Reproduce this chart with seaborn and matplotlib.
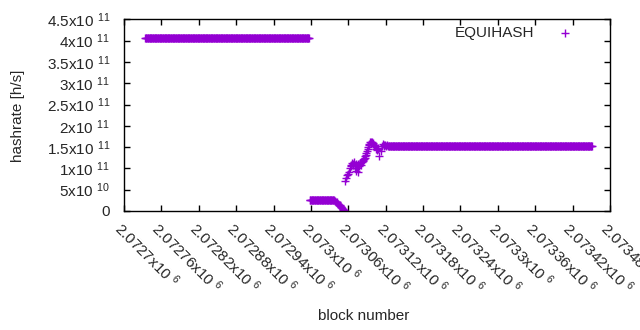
import numpy as np
import pandas as pd
import matplotlib
matplotlib.use("Agg")
import matplotlib.pyplot as plt
import seaborn as sns

# ---- data ----
# flat runs: (first block, last block, hashrate)
run_first = [2072734, 2072998, 2073016, 2073125]
run_last = [2072997, 2073015, 2073037, 2073451]
run_value = [4.055e11, 2.65e10, 2.55e10, 1.526e11]

# individual blocks in the transitions
pt_blocks = [2073038, 2073040, 2073042, 2073044, 2073045, 2073046, 2073047,
             2073048, 2073049, 2073050, 2073051, 2073052, 2073053,
             2073054, 2073056, 2073058, 2073060, 2073061, 2073063, 2073064,
             2073065, 2073066, 2073067, 2073068, 2073069, 2073070, 2073071,
             2073072, 2073073, 2073074, 2073075, 2073076, 2073077, 2073078,
             2073079, 2073080, 2073081, 2073082, 2073083, 2073084, 2073085,
             2073086, 2073087, 2073088, 2073089, 2073090, 2073091, 2073092,
             2073093, 2073094, 2073095, 2073096, 2073097, 2073098, 2073099,
             2073100, 2073101, 2073103, 2073105, 2073106, 2073107, 2073108,
             2073110, 2073112, 2073114, 2073116, 2073117, 2073118, 2073119,
             2073120, 2073122, 2073124]
pt_values_e10 = [2.45, 2.2, 2.0, 1.7, 1.5, 1.35, 1.2,
                 1.05, 0.9, 0.7, 0.5, 0.3, 0.15,
                 7.0, 7.8, 8.5, 8.8, 9.2, 10.2, 10.8,
                 10.5, 11.2, 11.0, 10.8, 11.5, 10.2, 10.8,
                 11.0, 9.5, 10.0, 9.2, 11.0, 10.5, 11.3,
                 11.2, 10.8, 11.6, 11.4, 11.8, 12.0, 12.2,
                 12.5, 12.8, 13.2, 13.6, 14.0, 14.5, 15.0,
                 15.5, 15.8, 16.2, 16.3, 16.0, 16.2, 15.8,
                 15.9, 15.6, 15.2, 14.6, 14.4, 14.5, 14.8,
                 12.9, 14.2, 15.2, 15.8, 15.6, 15.3, 15.5,
                 15.3, 15.4, 15.3]

x_ticks = [2072700 + 60 * k for k in range(14)]
x_tick_labels = ["2.0727", "2.07276", "2.07282", "2.07288", "2.07294", "2.073",
                 "2.07306", "2.07312", "2.07318", "2.07324", "2.0733",
                 "2.07336", "2.07342", "2.07348"]
y_ticks = [0, 5e10, 1e11, 1.5e11, 2e11, 2.5e11, 3e11, 3.5e11, 4e11, 4.5e11]
y_tick_labels = ["0", "5x10 $^{10}$", "1x10 $^{11}$", "1.5x10 $^{11}$", "2x10 $^{11}$",
                 "2.5x10 $^{11}$", "3x10 $^{11}$", "3.5x10 $^{11}$", "4x10 $^{11}$",
                 "4.5x10 $^{11}$"]

blocks = []
vals = []
for a, b, v in zip(run_first, run_last, run_value):
    rng = list(range(a, b + 1))
    blocks += rng
    vals += [v] * len(rng)
blocks += pt_blocks
vals += [v * 1e10 for v in pt_values_e10]
df = pd.DataFrame({"block": blocks, "hashrate": vals}).sort_values("block")

# ---- style ----
sns.set_style("white")
plt.rcParams["font.family"] = ["Liberation Sans", "DejaVu Sans"]
plt.rcParams["mathtext.fontset"] = "custom"
plt.rcParams["mathtext.rm"] = "Liberation Sans"
plt.rcParams["mathtext.it"] = "Liberation Sans"
plt.rcParams["mathtext.default"] = "regular"

FS = 11
fig = plt.figure(figsize=(6.4, 3.3), dpi=100)
ax = fig.add_axes([124 / 640, 1 - 211 / 330, 486 / 640, 191.7 / 330])

sns.scatterplot(data=df, x="block", y="hashrate", marker="+", s=30,
                color="#9400d3", linewidth=1, label="EQUIHASH", ax=ax)

ax.set_xlim(2072700, 2073480)
ax.set_ylim(0, 4.5e11)
ax.set_xticks(x_ticks)
ax.set_xticklabels([l + "x10 $^{6}$" for l in x_tick_labels], rotation=-45,
                   ha="left", va="top", rotation_mode="anchor", fontsize=FS)
ax.set_yticks(y_ticks)
ax.set_yticklabels(y_tick_labels, fontsize=FS)
ax.tick_params(direction="in", length=4, width=1, color="black",
               top=True, right=True, bottom=True, left=True, pad=6)
ax.tick_params(axis="y", pad=10)
for sp in ax.spines.values():
    sp.set_color("black")
    sp.set_linewidth(1)

ax.set_xlabel("block number", fontsize=FS)
ax.set_ylabel("hashrate [h/s]", fontsize=FS)
ax.xaxis.set_label_coords(0.493, -0.513)
ax.yaxis.set_label_coords(-0.204, 0.499)

ax.legend(loc="center right", bbox_to_anchor=(0.938, 0.928), frameon=False,
          markerfirst=False, borderpad=0, borderaxespad=0, handlelength=2,
          handletextpad=1.0, fontsize=FS, scatterpoints=1)

fig.savefig("out.png", dpi=100)
